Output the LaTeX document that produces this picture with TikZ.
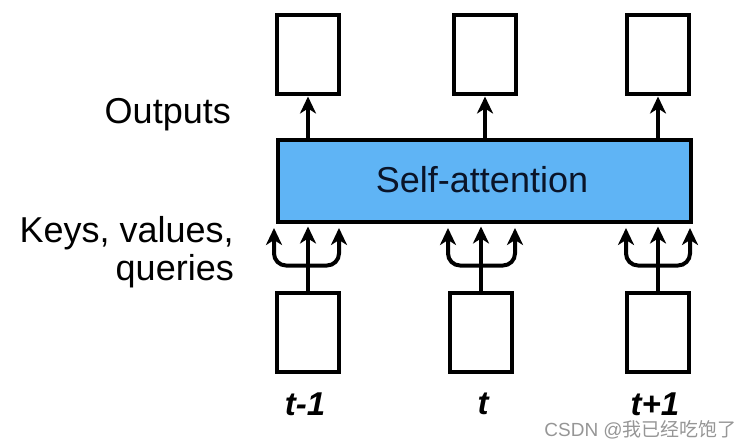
\documentclass[tikz,border=0pt]{standalone}
\usepackage{fontspec}
\setmainfont{Liberation Sans}
\newfontfamily\cjk{Noto Sans CJK SC}
\usetikzlibrary{arrows.meta}
\definecolor{attnblue}{RGB}{95,180,245}
\definecolor{wmgray}{RGB}{150,150,150}
\definecolor{navytext}{RGB}{10,20,40}
\begin{document}
\begin{tikzpicture}[x=1pt,y=-1pt,
  vecbox/.style={draw,line width=4pt,minimum width=62pt,minimum height=79pt,inner sep=0pt},
  flow/.style={line width=4pt,-{Stealth[length=17pt,width=16pt,inset=5pt]}},
  fork/.style={line width=4pt,rounded corners=12pt,-{Stealth[length=17pt,width=16pt,inset=5pt]}},
  lbl/.style={font=\fontsize{36}{40}\selectfont,inner sep=0pt},
  tlbl/.style={font=\fontsize{33}{38}\selectfont\bfseries\itshape,inner sep=0pt}]
\useasboundingbox (0,0) rectangle (751,446);
% self-attention layer
\node[draw,line width=4pt,fill=attnblue,minimum width=413pt,minimum height=82pt,inner sep=0pt] (sa) at (484,181) {};
\node[lbl,text=navytext] (satext) at (482,180) {Self-attention};
% output boxes
\node[vecbox] (o1) at (308,55) {};
\node[vecbox] (o2) at (485,55) {};
\node[vecbox] (o3) at (658,55) {};
% input boxes
\node[vecbox] (i1) at (308,332) {};
\node[vecbox] (i2) at (481,332) {};
\node[vecbox] (i3) at (658,332) {};
% output arrows
\draw[flow] (o1.south |- sa.north) -- (o1.south);
\draw[flow] (o2.south |- sa.north) -- (o2.south);
\draw[flow] (o3.south |- sa.north) -- (o3.south);
% forks
\foreach \i/\l/\r in {1/274/339, 2/448/515, 3/626/690}{
  \draw[flow] (i\i.north) -- ++(0,-64);
  \draw[fork] (i\i.north) ++(0,-25) -| (\l,228);
  \draw[fork] (i\i.north) ++(0,-25) -| (\r,228);
}
% labels
\node[lbl,anchor=east] (outl) at (231,115) {Outputs};
\node[lbl,anchor=east] (kvl) at (234,233) {Keys, values,};
\node[lbl,anchor=east] (ql) at (234,271) {queries};
\node[tlbl] (t1) at (305,404) {t-1};
\node[tlbl] (t2) at (483,404) {t};
\node[tlbl] (t3) at (655,404) {t+1};
\node[font=\fontsize{19}{22}\selectfont,text=wmgray,anchor=east,inner sep=0pt] (wm) at (737,430) {CSDN @{\cjk 我已经吃饱了}};
\end{tikzpicture}
\end{document}
